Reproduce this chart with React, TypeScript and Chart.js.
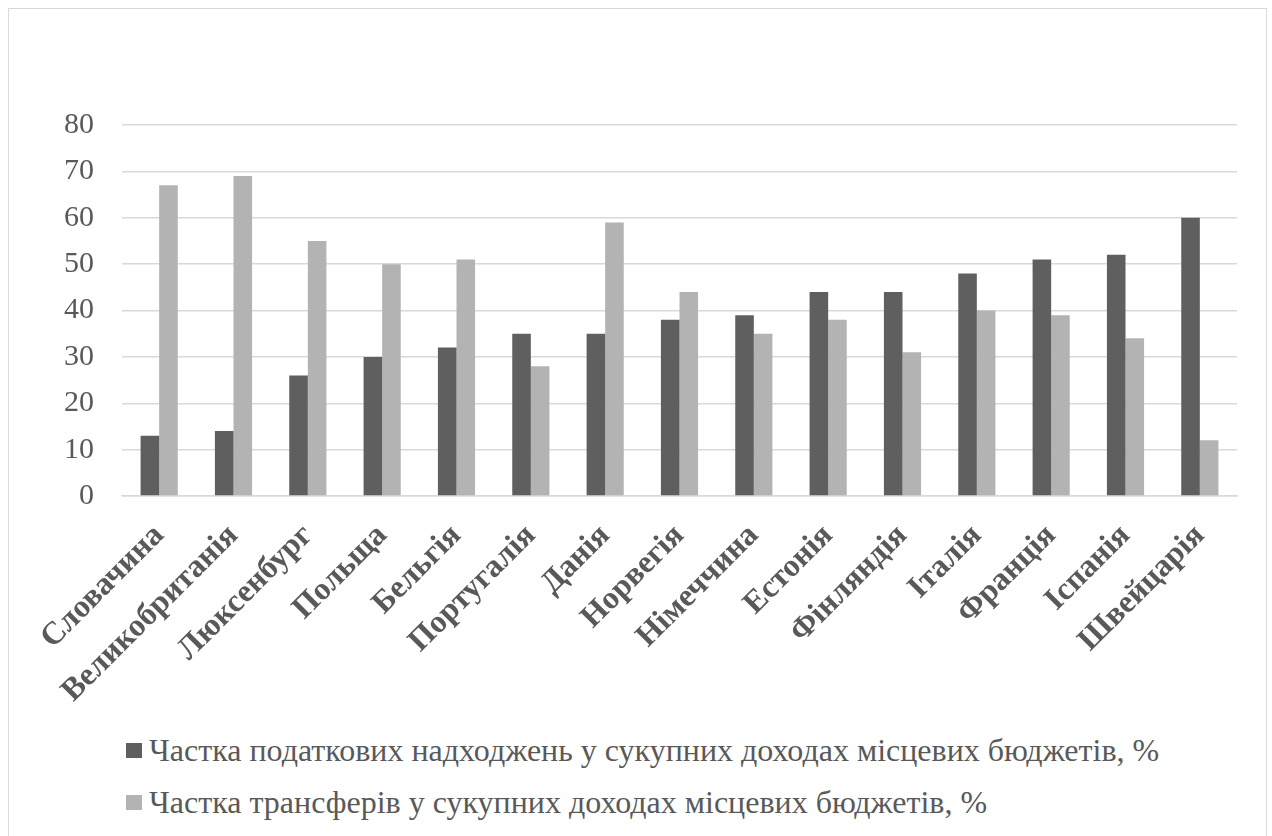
import React, { useEffect, useRef } from "react";
import { Chart, registerables } from "chart.js";

Chart.register(...registerables);

const categories = [
  "Словачина",
  "Великобританія",
  "Люксенбург",
  "Польща",
  "Бельгія",
  "Португалія",
  "Данія",
  "Норвегія",
  "Німеччина",
  "Естонія",
  "Фінляндія",
  "Італія",
  "Франція",
  "Іспанія",
  "Швейцарія",
];

const taxShare = [13, 14, 26, 30, 32, 35, 35, 38, 39, 44, 44, 48, 51, 52, 60];
const transferShare = [67, 69, 55, 50, 51, 28, 59, 44, 35, 38, 31, 40, 39, 34, 12];

const seriesLabels = [
  "Частка податкових надходжень у сукупних доходах місцевих бюджетів, %",
  "Частка трансферів у сукупних доходах місцевих бюджетів, %",
];
const seriesColors = ["#5f5f5f", "#b3b3b3"];

const yTicks = [0, 10, 20, 30, 40, 50, 60, 70, 80];

const FONT = "'Liberation Serif', 'Times New Roman', serif";
const TEXT = "#595959";
const GRID = "#d9d9d9";

export default function App() {
  const canvasRef = useRef<HTMLCanvasElement | null>(null);

  useEffect(() => {
    if (!canvasRef.current) return;
    const chart = new Chart(canvasRef.current, {
      type: "bar",
      data: {
        labels: categories,
        datasets: [
          {
            label: seriesLabels[0],
            data: taxShare,
            backgroundColor: seriesColors[0],
            borderWidth: 0,
            barPercentage: 1,
            categoryPercentage: 0.5,
          },
          {
            label: seriesLabels[1],
            data: transferShare,
            backgroundColor: seriesColors[1],
            borderWidth: 0,
            barPercentage: 1,
            categoryPercentage: 0.5,
          },
        ],
      },
      options: {
        animation: false,
        responsive: true,
        maintainAspectRatio: false,
        layout: { padding: { top: 116, right: 29, left: 0, bottom: 0 } },
        plugins: {
          legend: { display: false },
          tooltip: { enabled: false },
        },
        scales: {
          x: {
            grid: { display: false, drawTicks: false },
            border: { display: true, color: GRID, width: 1.5 },
            ticks: {
              color: TEXT,
              font: { family: FONT, size: 32, weight: "bold" },
              minRotation: 45,
              maxRotation: 45,
              autoSkip: false,
              padding: 21,
            },
            afterFit: (scale: any) => {
              scale.height = 233;
            },
          },
          y: {
            min: 0,
            max: 80,
            afterBuildTicks: (scale: any) => {
              scale.ticks = yTicks.map((v) => ({ value: v }));
            },
            grid: { color: GRID, lineWidth: 1.5, drawTicks: false },
            border: { display: false },
            ticks: {
              color: TEXT,
              font: { family: FONT, size: 30 },
              padding: 28,
            },
            afterFit: (scale: any) => {
              scale.width = 113;
            },
          },
        },
      },
    });
    return () => chart.destroy();
  }, []);

  return (
    <div
      style={{
        position: "fixed",
        left: 8,
        top: 8,
        width: 1259,
        height: 830,
        boxSizing: "border-box",
        border: `1px solid ${GRID}`,
        background: "#fff",
      }}
    >
      <div style={{ position: "absolute", left: 0, top: 0, width: 1257, height: 720 }}>
        <canvas ref={canvasRef} />
      </div>
      {seriesLabels.map((lab, i) => (
        <div
          key={i}
          style={{
            position: "absolute",
            left: 117,
            top: 723 + i * 52,
            height: 36,
            display: "flex",
            alignItems: "center",
            fontFamily: FONT,
            fontSize: 32,
            color: TEXT,
            whiteSpace: "nowrap",
          }}
        >
          <span
            style={{
              display: "inline-block",
              width: 16,
              height: 15,
              background: seriesColors[i],
              marginRight: 7,
            }}
          />
          <span>{lab}</span>
        </div>
      ))}
    </div>
  );
}
